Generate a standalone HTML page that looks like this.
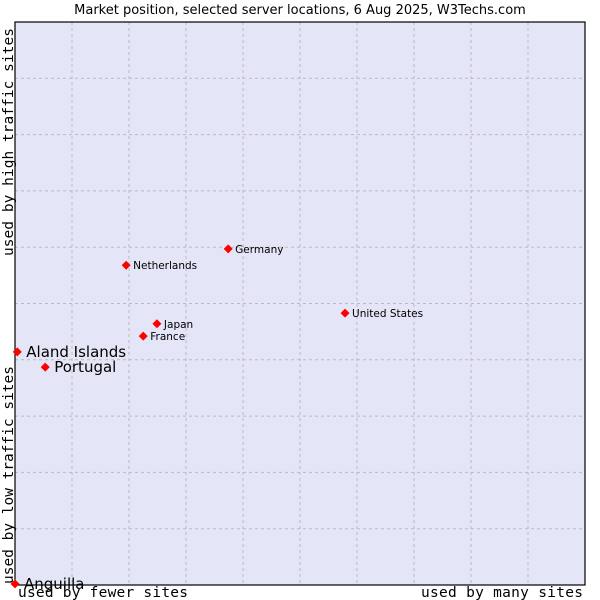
<!DOCTYPE html>
<html><head><meta charset="utf-8"><style>
html,body{margin:0;padding:0;background:#fff;}
svg{display:block;font-family:"DejaVu Sans","Liberation Sans",sans-serif;}
.mono{font-family:"DejaVu Sans Mono","Liberation Mono",monospace;}
</style></head><body>
<svg id="chart" width="600" height="600">
<text x="300" y="14" text-anchor="middle" font-size="13" fill="#000">Market position, selected server locations, 6 Aug 2025, W3Techs.com</text>
<rect x="15" y="22" width="570" height="563" fill="#e4e6f7"/>
<g id="grid"></g>
<rect x="15" y="22" width="570" height="563" fill="none" stroke="#000" stroke-width="1.2"/>
<text class="mono" transform="translate(13,142) rotate(-90)" text-anchor="middle" font-size="14.5" textLength="228">used by high traffic sites</text>
<text class="mono" transform="translate(13,475) rotate(-90)" text-anchor="middle" font-size="14.5" textLength="218">used by low traffic sites</text>
<text class="mono" x="18" y="597" font-size="14.5" textLength="170">used by fewer sites</text>
<text class="mono" x="421" y="597" font-size="14.5" textLength="162">used by many sites</text>
<g id="points"></g>
</svg>
<script>
const countries = ["Aland Islands","Portugal","Anguilla","Netherlands","Germany","United States","Japan","France"];
const xValues = [0.4, 5.3, 0, 19.5, 37.4, 57.9, 24.9, 22.5];
const yValues = [41.4, 38.7, 0.2, 56.8, 59.7, 48.3, 46.4, 44.2];
const bigLabel = [true, true, true, false, false, false, false, false];
const gridSteps = [1,2,3,4,5,6,7,8,9];
const NS="http://www.w3.org/2000/svg";
const L=15,T=22,W=570,H=563;
function sx(v){return L+v/100*W;}
function sy(v){return T+H-v/100*H;}
const grid=document.getElementById('grid');
gridSteps.forEach(s=>{
  const v=document.createElementNS(NS,'line');
  v.setAttribute('x1',sx(s*10));v.setAttribute('x2',sx(s*10));v.setAttribute('y1',T);v.setAttribute('y2',T+H);
  v.setAttribute('stroke','#bbb');v.setAttribute('stroke-dasharray','3,3');
  
  
  grid.appendChild(v);
  const h=document.createElementNS(NS,'line');
  h.setAttribute('y1',sy(s*10));h.setAttribute('y2',sy(s*10));h.setAttribute('x1',L);h.setAttribute('x2',L+W);
  h.setAttribute('stroke','#bbb');h.setAttribute('stroke-dasharray','3,3');
  
  
  grid.appendChild(h);
});
const pts=document.getElementById('points');
countries.forEach((c,i)=>{
  const x=sx(xValues[i]),y=sy(yValues[i]);
  const p=document.createElementNS(NS,'polygon');
  p.setAttribute('points',`${x},${y-4.5} ${x+4.5},${y} ${x},${y+4.5} ${x-4.5},${y}`);
  p.setAttribute('fill','#f00');
  
  
  pts.appendChild(p);
  const t=document.createElementNS(NS,'text');
  t.setAttribute('x',x+(bigLabel[i]?9:7));
  t.setAttribute('y',y+(bigLabel[i]?5:4));
  t.setAttribute('font-size',bigLabel[i]?'15':'10.5');
  t.setAttribute('fill','#000');
  t.textContent=c;
  
  
  pts.appendChild(t);
});
</script>
</body></html>
